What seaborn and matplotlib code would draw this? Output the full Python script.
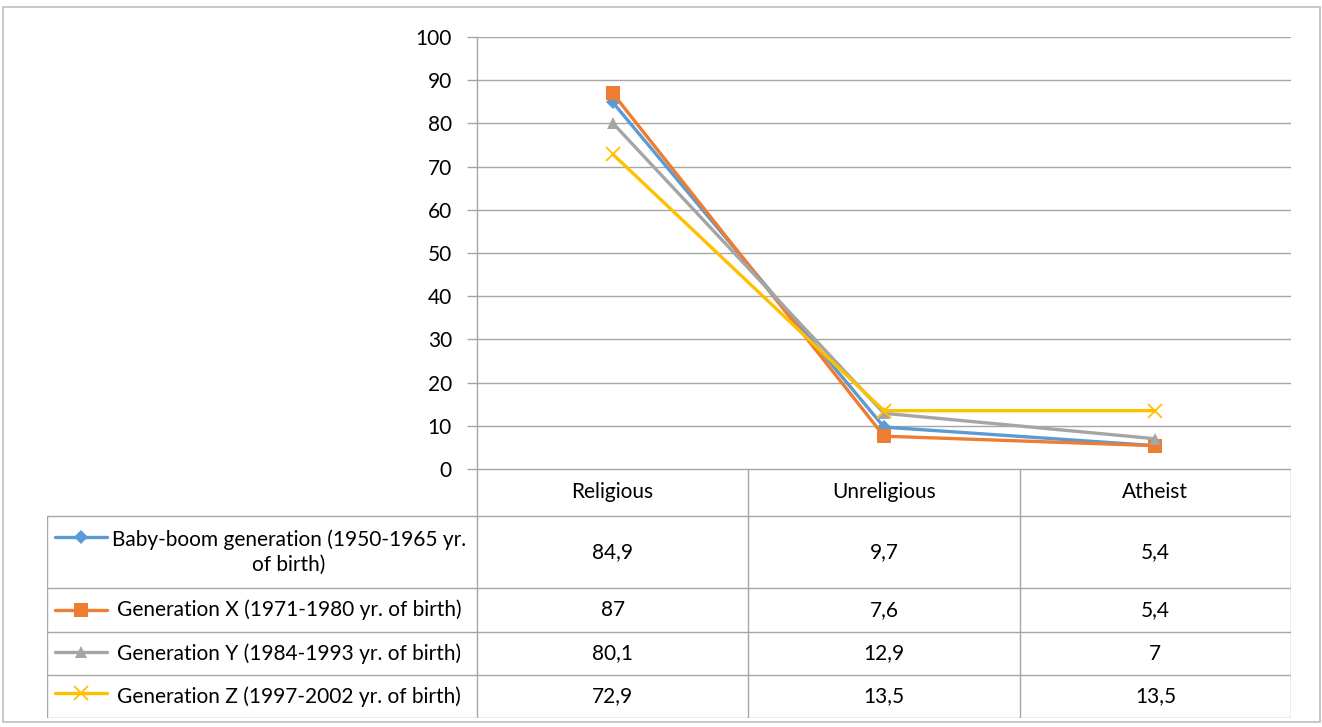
import matplotlib
matplotlib.use("Agg")
import matplotlib.pyplot as plt
from matplotlib.lines import Line2D
from matplotlib.patches import Rectangle
import numpy as np
import pandas as pd
import seaborn as sns

# ---- data ----
categories = ["Religious", "Unreligious", "Atheist"]
baby_boom = [84.9, 9.7, 5.4]
gen_x = [87, 7.6, 5.4]
gen_y = [80.1, 12.9, 7]
gen_z = [72.9, 13.5, 13.5]
series_names = [
    "Baby-boom generation (1950-1965 yr.\nof birth)",
    "Generation X (1971-1980 yr. of birth)",
    "Generation Y (1984-1993 yr. of birth)",
    "Generation Z (1997-2002 yr. of birth)",
]
y_ticks = [0, 10, 20, 30, 40, 50, 60, 70, 80, 90, 100]

series_values = [baby_boom, gen_x, gen_y, gen_z]
colors = ["#5B9BD5", "#ED7D31", "#A5A5A5", "#FFC000"]
markers = ["D", "s", "^", "x"]
msizes = [7, 10, 9, 10]
FS = 15

sns.set_theme(style="white")
plt.rcParams["font.family"] = ["Lato", "DejaVu Sans"]

W, H = 1322, 727
fig = plt.figure(figsize=(W / 100, H / 100), dpi=100)


def fx(px):
    return px / W


def fy(py):
    return 1 - py / H


# outer chart border
fig.add_artist(Rectangle((fx(3), fy(722)), fx(1320) - fx(3), fy(7) - fy(722),
                         transform=fig.transFigure, fill=False,
                         edgecolor="#BFBFBF", linewidth=1.2))

# ---- line chart ----
left_px, right_px, top_px, bot_px = 477, 1291, 37, 469
ax = fig.add_axes([fx(left_px), fy(bot_px), fx(right_px - left_px), fy(top_px) - fy(bot_px)])

long = pd.DataFrame({
    "category": np.tile(np.arange(len(categories)), len(series_names)),
    "value": np.concatenate(series_values),
    "series": np.repeat(series_names, len(categories)),
})

for name, col, mk, ms in zip(series_names, colors, markers, msizes):
    d = long[long["series"] == name]
    sns.lineplot(data=d, x="category", y="value", ax=ax, color=col, linewidth=2.4,
                 marker=mk, markersize=ms, markeredgecolor=col,
                 markeredgewidth=1.3 if mk == "x" else 0, legend=False, zorder=3)

ax.set_xlim(-0.5, len(categories) - 0.5)
ax.set_ylim(0, 100)
ax.set_yticks(y_ticks)
ax.set_yticklabels([str(t) for t in y_ticks], fontsize=FS, color="#000000")
ax.set_xticks([])
ax.set_xlabel("")
ax.set_ylabel("")
ax.grid(axis="y", color="#A6A6A6", linewidth=1.0)
ax.set_axisbelow(True)
for s in ["top", "right", "bottom"]:
    ax.spines[s].set_visible(False)
ax.spines["left"].set_color("#A6A6A6")
ax.spines["left"].set_linewidth(1.0)
ax.tick_params(axis="y", length=7, width=1.0, color="#A6A6A6", pad=11, direction="out", left=True)

# ---- data table ----
table_left_px, table_bot_px = 47, 718
col_w = (right_px - left_px) / len(categories)
x_left = -0.5 - (left_px - table_left_px) / col_w
axt = fig.add_axes([fx(table_left_px), fy(table_bot_px),
                    fx(right_px - table_left_px), fy(bot_px) - fy(table_bot_px)])
axt.set_xlim(x_left, len(categories) - 0.5)
row_edges = [469, 516, 588, 632, 675, 718]
axt.set_ylim(row_edges[-1], row_edges[0])
axt.axis("off")

grid_kw = dict(color="#A6A6A6", linewidth=1.0)
# horizontal lines
axt.plot([-0.5, len(categories) - 0.5], [row_edges[0]] * 2, **grid_kw)
for yv in row_edges[1:]:
    axt.plot([x_left, len(categories) - 0.5], [yv, yv], **grid_kw)
# vertical lines
axt.plot([x_left, x_left], [row_edges[1], row_edges[-1]], **grid_kw)
for i in range(len(categories) + 1):
    axt.plot([i - 0.5, i - 0.5], [row_edges[0], row_edges[-1]], **grid_kw)

# header
for i, c in enumerate(categories):
    axt.text(i, (row_edges[0] + row_edges[1]) / 2, c, ha="center", va="center",
             fontsize=FS, color="#000000")


def px_to_x(px):
    return x_left + (px - table_left_px) / col_w


key_y = [537, 610, 652, 693]
text_cx = px_to_x(289)
for r, (name, vals, col, mk, ms) in enumerate(zip(series_names, series_values, colors, markers, msizes)):
    mid = (row_edges[r + 1] + row_edges[r + 2]) / 2
    ky = key_y[r]
    axt.add_line(Line2D([px_to_x(55), px_to_x(107)], [ky, ky], color=col, linewidth=2.4))
    axt.add_line(Line2D([px_to_x(81)], [ky], color=col, marker=mk, markersize=ms,
                        markeredgecolor=col, markeredgewidth=1.3 if mk == "x" else 0))
    axt.text(text_cx, mid, name, ha="center", va="center", fontsize=FS,
             color="#000000", multialignment="center", linespacing=1.3)
    for i, v in enumerate(vals):
        axt.text(i, mid, f"{v:g}".replace(".", ","), ha="center", va="center",
                 fontsize=FS, color="#000000")

fig.savefig("out.png", dpi=100, facecolor="white")
